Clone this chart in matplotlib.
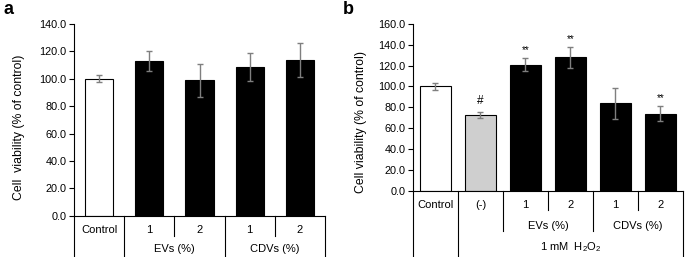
import matplotlib
matplotlib.use('Agg')
import matplotlib.pyplot as plt

plt.rcParams['font.family'] = ['Liberation Sans', 'DejaVu Sans']
plt.rcParams['mathtext.default'] = 'regular'

# panel a
labels_a = ['Control', '1', '2', '1', '2']
vals_a = [100.0, 113.0, 98.8, 108.4, 114.0]
err_a = [2.7, 7.0, 12.2, 10.2, 12.4]
colors_a = ['white', 'black', 'black', 'black', 'black']
groups_a = [('EVs (%)', 1, 2), ('CDVs (%)', 3, 4)]

# panel b
labels_b = ['Control', '(-)', '1', '2', '1', '2']
vals_b = [100.0, 72.2, 121.0, 128.0, 84.0, 73.8]
err_b = [3.1, 2.9, 6.5, 10.0, 15.0, 7.0]
colors_b = ['white', '#cfcfcf', 'black', 'black', 'black', 'black']
marks_b = ['', '#', '**', '**', '', '**']
groups_b = [('EVs (%)', 2, 3), ('CDVs (%)', 4, 5)]
treat_b = ('1 mM  H$_2$O$_2$', 1, 5)

W, H = 685, 257
fig = plt.figure(figsize=(W / 100, H / 100), dpi=100)


def px_axes(l, r, top, bot):
    return fig.add_axes([l / W, (H - bot) / H, (r - l) / W, (bot - top) / H])


def setup(ax, vals, err, colors, labels, width, ymax, ah, ylab):
    x = range(len(vals))
    ax.bar(x, vals, width=width, color=colors, edgecolor='black', linewidth=0.8, zorder=2)
    ax.errorbar(x, vals, yerr=err, fmt='none', ecolor='#7f7f7f', elinewidth=1.0,
                capsize=2.5, capthick=1.0, zorder=3)
    ax.set_xlim(-0.5, len(vals) - 0.5)
    ax.set_ylim(0, ymax)
    ax.set_yticks(range(0, ymax + 1, 20))
    ax.set_yticklabels(['%.1f' % v for v in range(0, ymax + 1, 20)])
    ax.tick_params(axis='y', labelsize=7.8, length=3.5, width=0.8, direction='out', pad=2)
    ax.set_xticks([])
    for s in ['top', 'right']:
        ax.spines[s].set_visible(False)
    for s in ['left', 'bottom']:
        ax.spines[s].set_linewidth(0.8)
    ax.set_ylabel(ylab, fontsize=8.8)
    tr = ax.get_xaxis_transform()

    def y(p):
        return -p / ah

    for i, lab in enumerate(labels):
        ax.text(i, y(14), lab, transform=tr, ha='center', va='center', fontsize=8)
    return tr, y


def vline(ax, tr, xpos, y0, y1):
    ax.plot([xpos, xpos], [y0, y1], transform=tr, color='black', lw=0.8, clip_on=False)


# ---- panel a
ah_a = 215.7 - 24
ax1 = px_axes(74, 325, 24, 215.7)
tr, y = setup(ax1, vals_a, err_a, colors_a, labels_a, 0.56, 140, ah_a,
              'Cell  viability (% of control)')
for name, i0, i1 in groups_a:
    ax1.text((i0 + i1) / 2, y(33.5), name, transform=tr, ha='center', va='center', fontsize=8)
    vline(ax1, tr, i0 + 0.5, 0, y(20))
for b in [-0.5, 0.5, 2.5, 4.5]:
    vline(ax1, tr, b, 0, y(42))
ax1.yaxis.set_label_coords(-0.195, 0.46)

# ---- panel b
ah_b = 190.6 - 24
ax2 = px_axes(413, 683, 24, 190.6)
tr, y = setup(ax2, vals_b, err_b, colors_b, labels_b, 0.667, 160, ah_b,
              'Cell viability (% of control)')
for i, m in enumerate(marks_b):
    if m:
        if m == '#':
            ax2.text(i, vals_b[i] + err_b[i] + 5, m, ha='center', va='bottom', fontsize=8.5)
        else:
            ax2.text(i, vals_b[i] + err_b[i] + 3, m, ha='center', va='bottom', fontsize=7)
for name, i0, i1 in groups_b:
    ax2.text((i0 + i1) / 2, y(35), name, transform=tr, ha='center', va='center', fontsize=8)
    vline(ax2, tr, i0 + 0.5, 0, y(19.5))
name, i0, i1 = treat_b
ax2.text((i0 + i1) / 2, y(56), name, transform=tr, ha='center', va='center', fontsize=8)
for b in [1.5, 3.5]:
    vline(ax2, tr, b, 0, y(40.5))
for b in [-0.5, 0.5, 5.5]:
    vline(ax2, tr, b, 0, y(67))
ax2.yaxis.set_label_coords(-0.17, 0.41)

fig.text(3 / W, 1 - 10 / H, 'a', fontsize=13, fontweight='bold', ha='left', va='center')
fig.text(343 / W, 1 - 10 / H, 'b', fontsize=13, fontweight='bold', ha='left', va='center')

fig.savefig('out.png', dpi=100)
